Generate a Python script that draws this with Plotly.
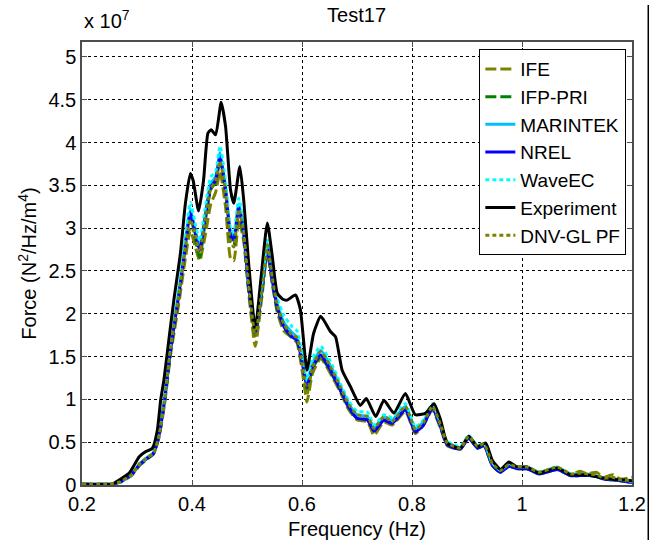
import plotly.graph_objects as go

# ---------------- data (values in units of 1e7 N^2/Hz/m^4) ----------------
f_exp = [0.20, 0.255, 0.268, 0.286, 0.304, 0.316, 0.328, 0.337, 0.343, 0.349,
         0.358, 0.367, 0.379, 0.388, 0.397, 0.402, 0.412, 0.421, 0.429, 0.435,
         0.443, 0.453, 0.461, 0.470, 0.476, 0.487, 0.494, 0.503, 0.515, 0.525,
         0.537, 0.546, 0.555, 0.565, 0.573, 0.588, 0.597, 0.609, 0.621, 0.634,
         0.652, 0.661, 0.673, 0.688, 0.706, 0.717, 0.734, 0.749, 0.767, 0.788,
         0.806, 0.825, 0.840, 0.852, 0.864, 0.888, 0.903, 0.919, 0.934, 0.946,
         0.961, 0.976, 0.991, 1.009, 1.031, 1.064, 1.088, 1.119, 1.149, 1.179, 1.2]
experiment = [0.01, 0.01, 0.06, 0.14, 0.33, 0.39, 0.43, 0.64, 0.99, 1.23,
              1.70, 2.16, 2.71, 3.29, 3.64, 3.56, 3.20, 3.56, 4.11, 4.15,
              4.09, 4.47, 4.19, 3.45, 3.29, 3.72, 3.33, 2.59, 1.82, 2.39,
              3.06, 2.67, 2.24, 2.17, 2.16, 2.22, 2.05, 1.34, 1.77, 1.97,
              1.79, 1.73, 1.34, 1.15, 0.93, 1.01, 0.80, 0.99, 0.84, 1.07,
              0.82, 0.84, 0.95, 0.76, 0.49, 0.43, 0.57, 0.45, 0.49, 0.29,
              0.18, 0.27, 0.21, 0.21, 0.14, 0.20, 0.12, 0.12, 0.08, 0.06, 0.05]

f_sim = [0.20, 0.25, 0.27, 0.29, 0.305, 0.318, 0.33, 0.34, 0.35, 0.361,
         0.376, 0.388, 0.397, 0.406, 0.414, 0.425, 0.434, 0.443, 0.451, 0.461,
         0.470, 0.476, 0.485, 0.494, 0.503, 0.515, 0.528, 0.537, 0.546, 0.555,
         0.567, 0.582, 0.591, 0.603, 0.609, 0.619, 0.634, 0.652, 0.670, 0.685,
         0.700, 0.719, 0.731, 0.749, 0.764, 0.788, 0.806, 0.821, 0.837, 0.852,
         0.864, 0.888, 0.903, 0.919, 0.931, 0.946, 0.961, 0.976, 0.991, 1.009,
         1.031, 1.064, 1.088, 1.105, 1.119, 1.135, 1.149, 1.165, 1.179, 1.2]

ife = [0.01, 0.01, 0.03, 0.11, 0.23, 0.30, 0.36, 0.55, 0.94, 1.52,
       2.12, 2.65, 2.98, 2.78, 2.62, 2.95, 3.28, 3.42, 3.66, 3.25,
       2.65, 2.62, 3.10, 2.85, 2.25, 1.62, 2.25, 2.72, 2.35, 2.02,
       1.80, 1.72, 1.66, 1.22, 0.97, 1.30, 1.48, 1.30, 1.08, 0.88,
       0.76, 0.74, 0.58, 0.74, 0.70, 0.86, 0.60, 0.70, 0.88, 0.66,
       0.46, 0.42, 0.56, 0.43, 0.47, 0.23, 0.16, 0.23, 0.19, 0.20,
       0.14, 0.19, 0.12, 0.16, 0.13, 0.15, 0.09, 0.12, 0.07, 0.09]
ifp_pri = [0.01, 0.01, 0.04, 0.12, 0.24, 0.31, 0.37, 0.58, 0.97, 1.57,
           2.20, 2.78, 3.15, 2.88, 2.66, 3.12, 3.45, 3.54, 3.80, 3.40,
           2.85, 2.80, 3.20, 2.90, 2.28, 1.75, 2.30, 2.76, 2.36, 2.05,
           1.84, 1.72, 1.68, 1.32, 1.12, 1.36, 1.50, 1.32, 1.10, 0.90,
           0.78, 0.76, 0.63, 0.76, 0.72, 0.88, 0.63, 0.71, 0.90, 0.68,
           0.47, 0.42, 0.55, 0.43, 0.46, 0.23, 0.15, 0.22, 0.19, 0.19,
           0.13, 0.18, 0.11, 0.11, 0.11, 0.10, 0.07, 0.06, 0.05, 0.03]
marintek = [0.01, 0.01, 0.04, 0.12, 0.25, 0.32, 0.38, 0.60, 1.00, 1.62,
            2.26, 2.85, 3.22, 2.98, 2.78, 3.20, 3.52, 3.60, 3.88, 3.48,
            2.96, 2.90, 3.28, 2.98, 2.36, 1.82, 2.36, 2.82, 2.43, 2.12,
            1.90, 1.78, 1.73, 1.38, 1.19, 1.42, 1.57, 1.39, 1.15, 0.95,
            0.82, 0.80, 0.67, 0.80, 0.76, 0.92, 0.66, 0.74, 0.93, 0.71,
            0.50, 0.44, 0.57, 0.45, 0.48, 0.25, 0.17, 0.24, 0.21, 0.21,
            0.15, 0.20, 0.13, 0.12, 0.12, 0.11, 0.08, 0.07, 0.06, 0.04]
nrel = [0.01, 0.01, 0.04, 0.12, 0.24, 0.31, 0.37, 0.58, 0.98, 1.58,
        2.22, 2.80, 3.18, 2.94, 2.74, 3.17, 3.48, 3.56, 3.84, 3.45,
        2.92, 2.86, 3.25, 2.94, 2.32, 1.78, 2.32, 2.78, 2.39, 2.08,
        1.85, 1.73, 1.69, 1.34, 1.15, 1.38, 1.52, 1.34, 1.11, 0.91,
        0.78, 0.76, 0.63, 0.76, 0.72, 0.88, 0.62, 0.70, 0.90, 0.68,
        0.47, 0.42, 0.55, 0.43, 0.46, 0.23, 0.15, 0.22, 0.19, 0.19,
        0.13, 0.18, 0.11, 0.11, 0.11, 0.10, 0.07, 0.06, 0.05, 0.03]
waveec = [0.01, 0.01, 0.04, 0.12, 0.25, 0.32, 0.38, 0.60, 1.02, 1.66,
          2.30, 2.90, 3.30, 3.05, 2.85, 3.28, 3.60, 3.66, 3.96, 3.55,
          3.00, 2.95, 3.35, 3.02, 2.40, 1.85, 2.40, 2.86, 2.48, 2.18,
          1.98, 1.85, 1.80, 1.42, 1.22, 1.48, 1.62, 1.44, 1.18, 0.98,
          0.86, 0.85, 0.70, 0.82, 0.79, 0.95, 0.68, 0.76, 0.95, 0.72,
          0.51, 0.45, 0.58, 0.46, 0.49, 0.26, 0.17, 0.25, 0.21, 0.21,
          0.15, 0.21, 0.13, 0.13, 0.12, 0.11, 0.08, 0.07, 0.06, 0.04]
dnv_gl_pf = [0.01, 0.01, 0.04, 0.12, 0.25, 0.32, 0.37, 0.58, 0.98, 1.60,
             2.22, 2.78, 3.10, 2.92, 2.72, 3.15, 3.46, 3.56, 3.78, 3.42,
             2.85, 2.78, 3.22, 2.94, 2.34, 1.74, 2.32, 2.80, 2.42, 2.10,
             1.88, 1.75, 1.72, 1.30, 1.05, 1.38, 1.56, 1.38, 1.14, 0.94,
             0.82, 0.80, 0.66, 0.80, 0.74, 0.92, 0.65, 0.73, 0.92, 0.70,
             0.49, 0.43, 0.57, 0.45, 0.48, 0.25, 0.17, 0.24, 0.21, 0.21,
             0.15, 0.21, 0.13, 0.14, 0.13, 0.12, 0.08, 0.09, 0.06, 0.05]

x_ticks = [0.2, 0.4, 0.6, 0.8, 1.0, 1.2]
y_ticks = [0, 0.5, 1, 1.5, 2, 2.5, 3, 3.5, 4, 4.5, 5]

FONT = "Arial, Liberation Sans, sans-serif"

series = [
    ("IFE", f_sim, ife, "#808000", "11px,4px"),
    ("IFP-PRI", f_sim, ifp_pri, "#008000", "11px,4px"),
    ("MARINTEK", f_sim, marintek, "#00BFFF", "solid"),
    ("NREL", f_sim, nrel, "#0000FF", "solid"),
    ("WaveEC", f_sim, waveec, "#00FFFF", "4px,3px"),
    ("Experiment", f_exp, experiment, "#000000", "solid"),
    ("DNV-GL PF", f_sim, dnv_gl_pf, "#808000", "4px,3px"),
]

fig = go.Figure()
for name, xs, ys, col, dash in series:
    fig.add_trace(go.Scatter(
        x=xs, y=ys, name=name, mode="lines",
        line=dict(color=col, width=3, dash=dash, shape="spline", smoothing=0.5),
    ))

axis_common = dict(
    showline=True, linecolor="#4d4d4d", linewidth=1.5, mirror="ticks",
    ticks="inside", ticklen=5, tickcolor="#4d4d4d",
    showgrid=True, gridcolor="#000000", gridwidth=1, griddash="dot",
    zeroline=False, tickfont=dict(family=FONT, size=20, color="#000000"),
)

fig.update_layout(
    width=657, height=540,
    margin=dict(l=82, r=25, t=42, b=55, autoexpand=False),
    paper_bgcolor="white", plot_bgcolor="white",
    font=dict(family=FONT, size=20, color="#000000"),
    title=dict(text="Test17", x=0.5427, xanchor="center", y=0.972, yanchor="middle",
               font=dict(family=FONT, size=20, color="#000000")),
    xaxis=dict(range=[0.2, 1.2], tickvals=x_ticks, ticktext=["0.2", "0.4", "0.6", "0.8", "1", "1.2"],
               title=dict(text="Frequency (Hz)", standoff=9, font=dict(family=FONT, size=20)),
               **axis_common),
    yaxis=dict(range=[0, 5.175], tickvals=y_ticks,
               ticktext=["0", "0.5", "1", "1.5", "2", "2.5", "3", "3.5", "4", "4.5", "5"],
               title=dict(text="Force (N<sup>2</sup>/Hz/m<sup>4</sup>)", standoff=6,
                          font=dict(family=FONT, size=20)),
               **axis_common),
    showlegend=True,
    legend=dict(x=0.9897, xanchor="right", y=0.984, yanchor="top",
                bgcolor="white", bordercolor="#000000", borderwidth=1,
                font=dict(family=FONT, size=19, color="#000000"),
                tracegroupgap=0, itemwidth=30),
    annotations=[dict(text="x 10<sup>7</sup>", xref="paper", yref="paper",
                      x=0, y=1.018, xanchor="left", yanchor="bottom", showarrow=False,
                      font=dict(family=FONT, size=20, color="#000000"))],
    shapes=[dict(type="line", xref="paper", yref="paper", x0=1.0296, x1=1.0296,
                 y0=-0.13, y1=1.0835, line=dict(color="#000000", width=1.5))],
)

fig.write_html("out.html")
